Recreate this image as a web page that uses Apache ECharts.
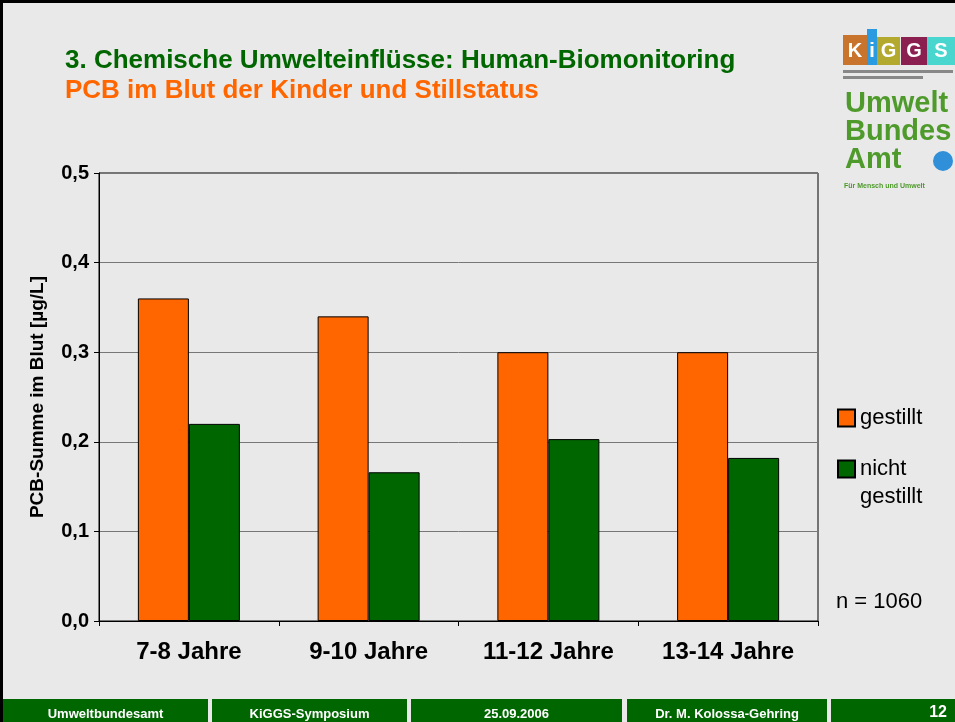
<!DOCTYPE html>
<html>
<head>
<meta charset="utf-8">
<script src="https://cdn.jsdelivr.net/npm/echarts@6/dist/echarts.min.js"></script>
<style>
  html, body { margin: 0; padding: 0; background: #e9e9e9; }
  #chart { width: 955px; height: 722px; }
</style>
</head>
<body>
<div id="chart"></div>
<script>
// data
var categories = ['7-8 Jahre', '9-10 Jahre', '11-12 Jahre', '13-14 Jahre'];
var gestillt = [0.36, 0.34, 0.30, 0.30];
var nichtGestillt = [0.22, 0.166, 0.203, 0.182];
var seriesNames = ['gestillt', 'nicht gestillt'];
var footerTexts = ['Umweltbundesamt', 'KiGGS-Symposium', '25.09.2006', 'Dr. M. Kolossa-Gehring', '12'];

var chart = echarts.init(document.getElementById('chart'));

var font = 'Liberation Sans, Arial, sans-serif';

// footer blocks (x start, x end)
var footerBlocks = [[3, 208], [212, 407], [411, 622], [627, 827], [831, 955]];
var footer = [];
footerBlocks.forEach(function (b, i) {
  footer.push({
    type: 'rect', shape: { x: b[0], y: 699, width: b[1] - b[0], height: 23 },
    style: { fill: '#006600' }, silent: true
  });
  footer.push({
    type: 'text', x: i === 4 ? 947 : (b[0] + b[1]) / 2, y: i === 4 ? 713 : 714,
    style: {
      text: footerTexts[i], fill: '#fff', font: 'bold ' + (i === 4 ? 16 : 13) + 'px ' + font,
      align: i === 4 ? 'right' : 'center', verticalAlign: 'middle'
    }
  });
});

// KiGGS logo blocks
var kiggs = [
  { ch: 'K', x: 843, w: 24, c: '#c8742c', y: 35, h: 30 },
  { ch: 'i', x: 867, w: 10, c: '#2a9be0', y: 29, h: 36 },
  { ch: 'G', x: 877, w: 23, c: '#b3a92e', y: 37, h: 28 },
  { ch: 'G', x: 901, w: 26, c: '#8a1f50', y: 37, h: 28 },
  { ch: 'S', x: 927, w: 28, c: '#49d6cf', y: 37, h: 28 }
];
var logo = [];
kiggs.forEach(function (k) {
  logo.push({ type: 'rect', shape: { x: k.x, y: k.y, width: k.w, height: k.h }, style: { fill: k.c }, silent: true });
  logo.push({
    type: 'text', x: k.x + k.w / 2, y: 51,
    style: { text: k.ch, fill: '#fff', font: 'bold 20px ' + font, align: 'center', verticalAlign: 'middle' }
  });
});
logo.push({ type: 'rect', shape: { x: 843, y: 70, width: 110, height: 3 }, style: { fill: '#888' }, silent: true });
logo.push({ type: 'rect', shape: { x: 843, y: 76, width: 80, height: 3 }, style: { fill: '#888' }, silent: true });
['Umwelt', 'Bundes', 'Amt'].forEach(function (t, i) {
  logo.push({
    type: 'text', x: 845, y: 104 + i * 28,
    style: { text: t, fill: '#4e9a2a', font: 'bold 29px ' + font, verticalAlign: 'middle' }
  });
});
logo.push({ type: 'circle', shape: { cx: 943, cy: 161, r: 10 }, style: { fill: '#2f8fd8' }, silent: true });
logo.push({
  type: 'text', x: 844, y: 186,
  style: { text: 'Für Mensch und Umwelt', fill: '#4e9a2a', font: 'bold 7px ' + font, verticalAlign: 'middle' }
});

var option = {
  backgroundColor: '#e9e9e9',
  animation: false,
  title: [{
    text: '3. Chemische Umwelteinflüsse: Human-Biomonitoring',
    left: 60, top: 43,
    textStyle: { color: '#006600', fontSize: 26, fontWeight: 'bold', fontFamily: font }
  }, {
    text: 'PCB im Blut der Kinder und Stillstatus',
    left: 60, top: 73,
    textStyle: { color: '#ff6600', fontSize: 26, fontWeight: 'bold', fontFamily: font }
  }],
  legend: [{
    data: [seriesNames[0]],
    left: 832, top: 402,
    icon: 'rect',
    itemWidth: 17, itemHeight: 17,
    textStyle: { fontSize: 22, fontFamily: font, color: '#000' }
  }, {
    data: [seriesNames[1]],
    left: 832, top: 422,
    icon: 'rect',
    itemWidth: 17, itemHeight: 17,
    // blank first line keeps "nicht" level with the swatch
    formatter: function () { return ' \nnicht\ngestillt'; },
    textStyle: { fontSize: 22, lineHeight: 28, fontFamily: font, color: '#000' }
  }],
  grid: { left: 99, right: 137, top: 173, bottom: 101, show: true, borderColor: '#000', borderWidth: 1, backgroundColor: 'transparent' },
  xAxis: {
    type: 'category',
    data: categories,
    axisLine: { lineStyle: { color: '#000', width: 1 } },
    axisTick: { show: true, length: 5, lineStyle: { color: '#000' } },
    axisLabel: { margin: 19, fontSize: 24, fontWeight: 'bold', fontFamily: font, color: '#000' }
  },
  yAxis: {
    type: 'value',
    min: 0, max: 0.5, interval: 0.1,
    name: 'PCB-Summe im Blut [µg/L]',
    nameLocation: 'middle', nameRotate: 90, nameGap: 52,
    nameTextStyle: { fontSize: 19, fontWeight: 'bold', fontFamily: font, color: '#000' },
    axisLine: { show: true, lineStyle: { color: '#000', width: 1 } },
    axisTick: { show: true, length: 5, lineStyle: { color: '#000' } },
    axisLabel: {
      margin: 10, fontSize: 20, fontWeight: 'bold', fontFamily: font, color: '#000',
      formatter: function (v) { return v.toFixed(1).replace('.', ','); }
    },
    splitLine: { show: true, lineStyle: { color: '#777', width: 1 } }
  },
  series: [{
    name: seriesNames[0],
    type: 'bar',
    data: gestillt,
    barWidth: 51, barGap: '0%',
    itemStyle: { color: '#ff6600', borderColor: '#000', borderWidth: 1 }
  }, {
    name: seriesNames[1],
    type: 'bar',
    data: nichtGestillt,
    barWidth: 51, barGap: '0%',
    itemStyle: { color: '#006600', borderColor: '#000', borderWidth: 1 }
  }],
  graphic: [
    { type: 'rect', shape: { x: 0, y: 0, width: 3, height: 722 }, style: { fill: '#000' }, silent: true },
    { type: 'rect', shape: { x: 0, y: 0, width: 955, height: 3 }, style: { fill: '#000' }, silent: true },
    {
      type: 'text', x: 836, y: 602,
      style: { text: 'n = 1060', fill: '#000', font: '22px ' + font, verticalAlign: 'middle' }
    }
  ].concat(footer, logo)
};

chart.setOption(option);
</script>
</body>
</html>
